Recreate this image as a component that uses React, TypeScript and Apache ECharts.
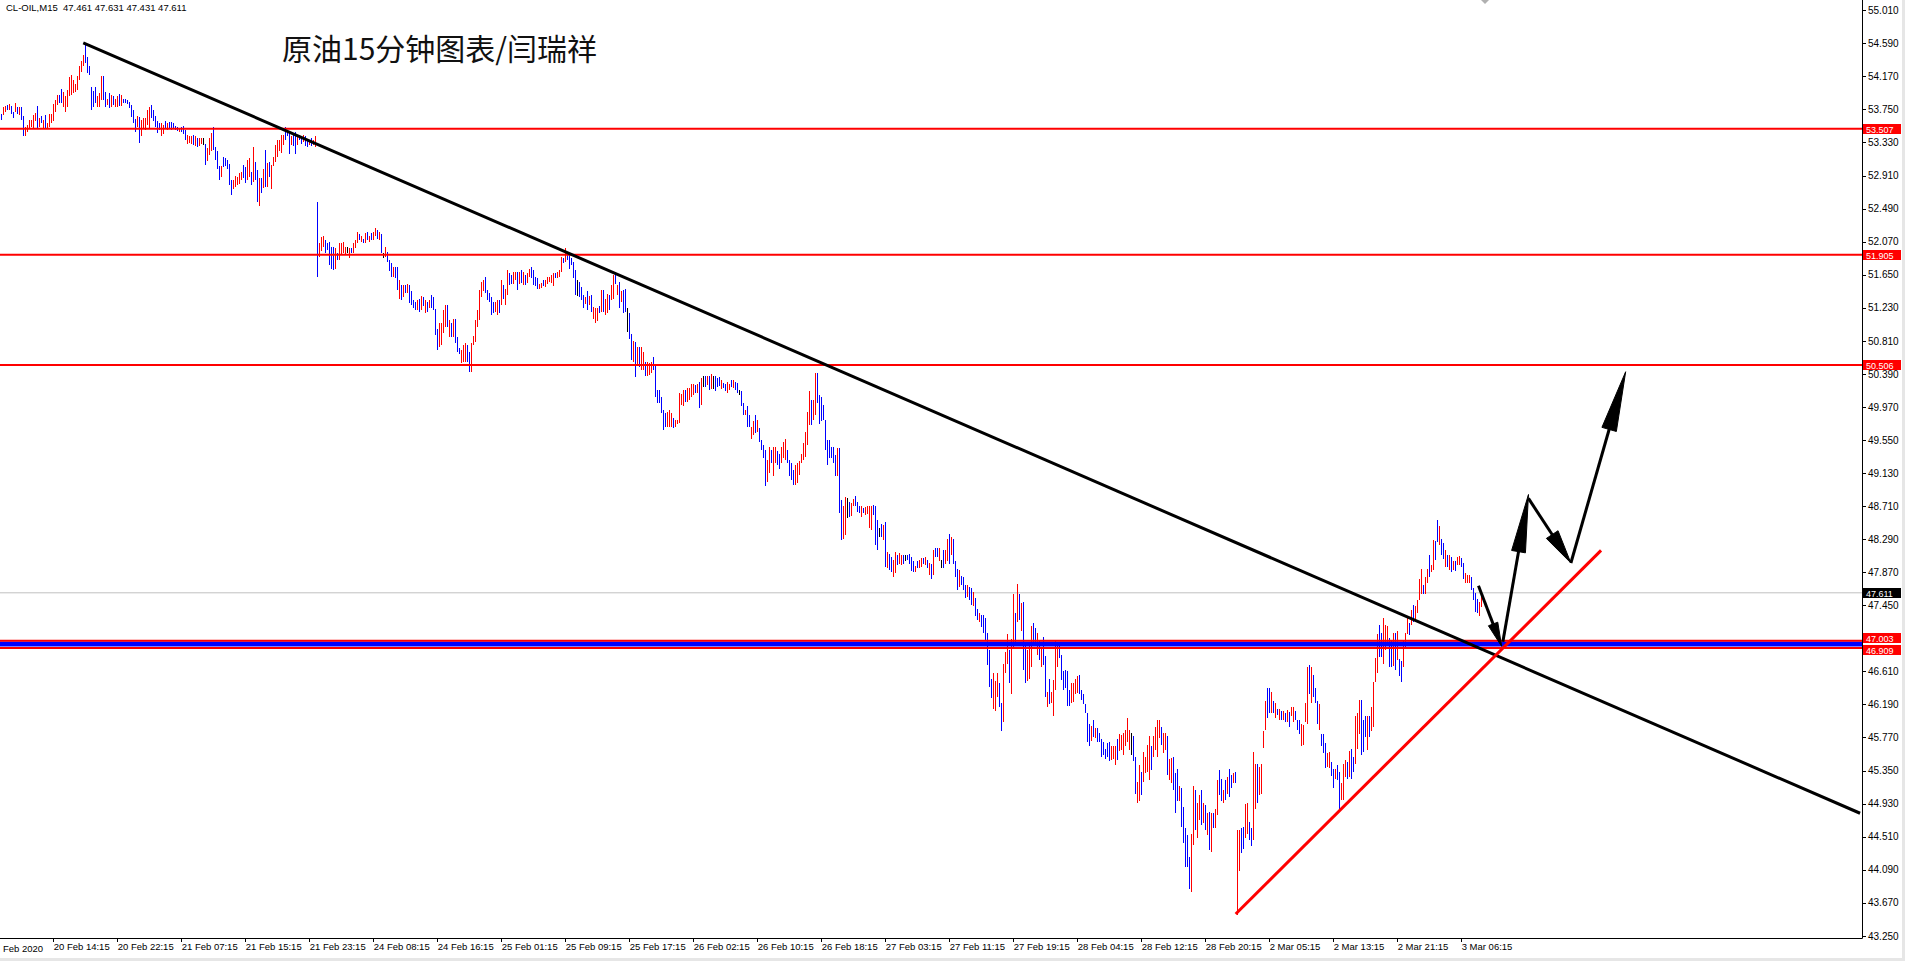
import React, { useEffect, useRef } from "react";
import * as echarts from "echarts";

const symbolHeader = "CL-OIL,M15  47.461 47.631 47.431 47.611";
const chartTitle = "原油15分钟图表/闫瑞祥";

// M15 bars: high / low per bar, direction r = up (red), b = down (blue), k = unchanged (black)
const highs = [
  53.70,53.79,53.80,53.81,53.82,53.80,53.72,53.83,53.79,53.78,
  53.78,53.67,53.53,53.55,53.62,53.62,53.68,53.71,53.80,53.65,
  53.67,53.62,53.68,53.58,53.70,53.70,53.82,53.87,53.94,53.93,
  54.01,53.98,53.92,54.00,54.17,54.19,54.13,54.08,54.18,54.30,
  54.37,54.44,54.59,54.42,54.30,54.04,53.99,54.04,53.92,53.96,
  54.18,54.18,53.98,53.89,53.96,53.94,53.92,53.89,53.92,53.95,
  53.94,53.89,53.89,53.87,53.85,53.81,53.75,53.63,53.67,53.66,
  53.62,53.65,53.64,53.75,53.78,53.81,53.75,53.67,53.60,53.58,
  53.58,53.55,53.61,53.58,53.59,53.59,53.58,53.54,53.53,53.51,
  53.53,53.54,53.49,53.43,53.41,53.41,53.43,53.41,53.39,53.39,
  53.39,53.39,53.32,53.26,53.39,53.45,53.53,53.28,53.22,53.03,
  53.03,53.15,53.13,53.11,53.06,52.85,52.86,52.91,52.90,52.94,
  52.96,53.05,53.02,53.11,53.14,52.96,53.27,53.09,52.98,52.88,
  52.88,53.00,53.24,53.07,53.09,53.05,53.15,53.30,53.36,53.36,
  53.43,53.43,53.53,53.49,53.47,53.42,53.45,53.47,53.40,53.43,
  53.42,53.43,53.41,53.37,53.36,53.39,53.37,53.42,52.58,52.05,
  52.13,52.14,52.09,52.05,52.07,52.01,52.01,51.99,51.93,52.05,
  52.05,52.07,52.01,52.00,51.99,51.99,52.06,52.09,52.20,52.17,
  52.14,52.11,52.18,52.20,52.14,52.18,52.20,52.25,52.22,52.19,
  52.17,51.93,52.00,51.94,51.84,51.80,51.75,51.75,51.75,51.58,
  51.52,51.52,51.52,51.54,51.52,51.44,51.33,51.31,51.33,51.34,
  51.38,51.37,51.33,51.30,51.33,51.40,51.37,51.22,50.96,51.04,
  51.04,51.20,51.27,51.27,51.08,51.04,51.09,51.09,50.86,50.72,
  50.70,50.76,50.78,50.76,50.67,
  50.78,50.87,51.08,51.20,51.46,51.56,51.59,51.63,51.46,51.42,
  51.37,51.31,51.31,51.33,51.33,51.59,51.52,51.47,51.71,51.68,
  51.65,51.69,51.69,51.69,51.69,51.71,51.69,51.65,51.68,
  51.73,51.75,51.71,51.63,51.61,51.54,51.55,51.59,51.59,51.63,
  51.63,51.65,51.67,51.68,51.69,51.71,51.88,51.86,51.99,51.92,
  51.90,51.86,51.82,51.71,51.59,51.56,51.50,51.40,51.37,51.44,
  51.38,51.40,51.24,51.23,51.23,51.25,51.46,51.46,51.34,51.41,
  51.40,51.52,51.65,51.69,51.52,51.56,51.44,51.46,51.47,51.23,
  51.16,50.90,50.81,50.80,50.74,50.74,50.74,50.67,50.55,50.55,
  50.53,50.55,50.61,50.51,50.19,50.19,50.10,49.93,49.90,49.91,
  49.93,49.90,49.83,49.81,49.81,50.15,50.14,50.19,50.19,50.21,
  50.21,50.26,50.26,50.25,50.26,50.29,50.34,50.36,50.37,50.36,
  50.36,50.39,50.36,50.36,50.34,
  50.35,50.31,50.28,50.26,50.29,50.27,50.31,50.31,50.29,50.28,
  50.19,50.17,50.02,49.94,49.98,49.87,49.72,49.79,49.87,49.81,
  49.70,49.55,49.49,49.42,49.30,49.47,49.43,49.47,49.47,49.41,
  49.38,49.47,49.53,49.56,49.43,49.30,49.26,49.17,49.24,49.26,
  49.28,49.38,49.51,49.66,49.91,50.17,50.06,50.06,50.40,50.40,
  50.12,50.10,50.00,49.81,49.55,49.55,49.47,49.47,49.36,49.45,
  49.45,48.79,48.71,48.83,48.81,48.77,48.75,48.80,48.84,48.77,
  48.71,48.71,48.69,48.70,
  48.71,48.71,48.71,48.73,48.71,48.54,48.43,48.49,48.47,48.51,
  48.13,48.11,48.07,48.03,48.13,48.09,48.12,48.09,48.09,48.09,
  48.09,48.10,48.07,48.01,47.95,48.01,48.03,48.05,48.05,48.06,
  48.03,47.99,47.98,48.15,48.18,48.18,48.18,48.03,48.15,48.15,
  48.29,48.36,48.32,48.30,48.01,47.91,47.90,47.82,47.81,47.71,
  47.71,47.69,47.67,47.62,47.54,47.41,47.35,47.33,47.33,47.29,
  47.10,46.88,
  46.52,46.59,46.49,46.59,46.46,46.21,46.71,46.86,47.09,46.88,
  47.03,47.60,47.36,47.72,47.60,47.48,47.50,46.95,46.88,46.99,
  47.19,47.23,47.16,47.10,47.01,46.91,47.05,46.81,46.35,46.51,
  46.35,46.50,47.01,46.96,46.93,46.82,46.62,46.63,46.62,46.38,
  46.47,46.47,46.52,46.55,46.57,46.38,46.33,46.20,46.09,45.94,
  45.92,45.99,45.89,45.89,45.83,45.75,45.72,45.63,45.70,45.71,
  45.66,45.66,45.66,45.75,45.82,45.80,45.83,45.87,46.02,45.87,
  45.83,45.79,45.53,45.21,45.42,45.34,45.59,45.53,45.68,45.79,
  45.66,45.79,45.91,46.00,46.00,45.91,45.83,45.83,45.79,45.50,
  45.51,45.53,45.32,45.37,45.15,45.13,44.89,44.62,44.53,44.26,
  44.55,45.15,45.10,44.94,45.04,45.10,44.94,44.91,44.81,44.82,
  44.81,44.81,44.87,45.23,45.36,45.25,45.10,45.23,45.27,45.37,
  45.30,45.32,45.34,
  44.60,44.60,44.62,44.64,44.93,44.94,44.70,44.62,45.59,45.44,
  45.44,45.40,45.44,45.85,46.23,46.40,46.40,46.35,46.23,46.21,
  46.13,46.13,46.11,46.11,46.09,46.12,46.10,46.16,46.16,46.11,
  45.99,45.99,45.94,45.93,46.21,46.67,46.69,46.67,46.57,46.40,
  46.23,46.20,45.82,45.82,45.70,45.57,45.59,45.46,45.37,45.37,
  45.42,45.34,45.19,45.44,45.49,45.46,45.60,45.63,45.53,46.04,
  46.08,46.25,46.25,45.99,46.04,46.04,46.05,46.16,46.48,46.78,
  47.09,47.20,47.10,47.29,47.20,47.19,47.04,47.01,47.10,47.10,
  47.12,46.77,46.74,47.01,47.10,47.29,47.23,47.39,47.46,47.44,
  47.52,47.79,47.91,47.71,47.81,47.91,48.09,47.96,48.28,48.27,
  48.53,48.46,48.30,48.24,48.15,48.09,48.09,48.06,48.02,48.01,
  48.07,48.08,48.05,47.99,47.86,47.84,47.84,47.81,47.67,47.61,
  47.53,47.50,47.631,
];

const lows = [
  53.62,53.68,53.72,53.75,53.75,53.70,53.64,53.72,53.70,53.68,
  53.62,53.41,53.41,53.47,53.50,53.53,53.50,53.60,53.51,53.53,
  53.58,53.51,53.51,53.50,53.53,53.58,53.60,53.72,53.81,53.83,
  53.84,53.79,53.72,53.79,53.92,53.94,53.96,53.98,54.00,54.13,
  54.23,54.30,54.34,54.21,54.19,53.75,53.79,53.83,53.78,53.79,
  53.87,53.87,53.79,53.81,53.77,53.79,53.81,53.78,53.79,53.80,
  53.80,53.83,53.84,53.82,53.77,53.66,53.58,53.47,53.53,53.33,
  53.41,53.50,53.49,53.55,53.51,53.64,53.60,53.53,53.45,53.49,
  53.41,53.44,53.50,53.49,53.51,53.49,53.50,53.49,53.48,53.47,
  53.47,53.44,53.37,53.32,53.33,53.32,53.30,53.29,53.27,53.29,
  53.31,53.30,53.05,53.10,53.17,53.23,53.24,53.11,53.00,52.86,
  52.90,53.02,53.03,53.00,52.79,52.67,52.74,52.77,52.79,52.81,
  52.86,52.88,52.82,52.86,52.90,52.79,52.83,52.86,52.58,52.53,
  52.69,52.75,52.77,52.77,52.89,52.74,53.03,53.09,53.15,53.22,
  53.20,53.30,53.36,53.41,53.19,53.30,53.29,53.19,53.30,53.36,
  53.32,53.34,53.29,53.27,53.30,53.29,53.30,53.27,51.63,51.88,
  51.95,52.01,51.93,51.97,51.78,51.73,51.71,51.72,51.84,51.84,
  51.92,51.93,51.92,51.93,51.86,51.93,51.93,51.99,52.05,52.09,
  52.07,52.06,52.05,52.09,52.07,52.09,52.09,52.14,52.11,52.09,
  51.93,51.87,51.88,51.82,51.70,51.63,51.63,51.61,51.46,51.35,
  51.33,51.37,51.42,51.42,51.29,51.27,51.23,51.21,51.20,51.18,
  51.20,51.25,51.16,51.18,51.23,51.23,51.20,50.89,50.70,50.74,
  50.76,50.91,50.99,50.99,50.86,50.86,50.86,50.78,50.67,50.65,
  50.53,50.54,50.54,50.55,50.42,
  50.42,50.76,50.80,50.99,51.08,51.37,51.44,51.42,51.33,51.31,
  51.14,51.16,51.18,51.14,51.16,51.27,51.35,51.27,51.40,51.52,
  51.54,51.54,51.59,51.46,51.54,51.55,51.52,51.52,51.55,
  51.63,51.61,51.52,51.51,51.47,51.47,51.48,51.51,51.50,51.54,
  51.56,51.55,51.51,51.61,51.61,51.63,51.69,51.80,51.82,51.84,
  51.72,51.78,51.61,51.40,51.38,51.37,51.33,51.23,51.28,51.20,
  51.27,51.18,51.09,51.04,51.06,51.16,51.18,51.18,51.14,51.16,
  51.20,51.33,51.35,51.54,51.40,51.23,51.31,51.16,51.18,50.93,
  50.84,50.57,50.55,50.35,50.51,50.48,50.44,50.44,50.36,50.36,
  50.38,50.40,50.44,50.10,50.02,50.02,49.89,49.68,49.72,49.72,
  49.72,49.72,49.71,49.72,49.76,49.77,50.00,49.98,50.04,50.04,
  50.06,50.10,50.12,50.15,50.15,49.96,50.00,50.23,50.23,50.25,
  50.19,50.20,50.20,50.17,50.22,
  50.24,50.20,50.21,50.17,50.15,50.19,50.23,50.21,50.19,50.15,
  50.12,49.98,49.87,49.87,49.72,49.72,49.57,49.62,49.64,49.66,
  49.53,49.43,49.32,48.97,49.02,49.13,49.26,49.09,49.26,49.23,
  49.19,49.26,49.32,49.30,49.26,49.09,49.04,48.98,48.98,49.00,
  49.11,49.26,49.30,49.34,49.49,49.74,49.74,49.81,49.87,50.02,
  49.76,49.79,49.81,49.43,49.24,49.32,49.32,49.26,49.09,49.10,
  48.62,48.28,48.30,48.35,48.56,48.58,48.59,48.71,48.71,48.64,
  48.62,48.58,48.62,48.60,
  48.61,48.43,48.41,48.60,48.22,48.15,48.32,48.32,48.28,47.94,
  47.92,47.90,47.88,47.81,47.86,47.96,47.98,47.96,47.98,48.01,
  48.03,47.98,47.89,47.88,47.88,47.92,47.92,47.94,47.98,47.96,
  47.92,47.84,47.79,47.84,48.07,48.07,48.01,47.92,47.92,47.98,
  48.01,47.98,48.09,47.98,47.81,47.65,47.69,47.71,47.65,47.54,
  47.56,47.52,47.46,47.44,47.31,47.26,47.24,47.18,47.10,47.01,
  46.69,46.42,
  46.28,46.14,46.11,46.29,46.16,45.86,45.97,46.59,46.71,46.47,
  46.33,46.91,46.97,47.24,47.26,47.12,46.63,46.47,46.49,46.52,
  46.67,46.93,46.93,46.82,46.76,46.67,46.69,46.29,46.16,46.20,
  46.21,46.04,46.38,46.67,46.78,46.50,46.37,46.40,46.17,46.17,
  46.21,46.22,46.33,46.34,46.33,46.25,46.20,46.09,45.72,45.66,
  45.73,45.78,45.76,45.71,45.71,45.53,45.55,45.50,45.52,45.47,
  45.49,45.50,45.42,45.49,45.60,45.62,45.55,45.66,45.72,45.61,
  45.55,45.47,45.06,44.94,44.96,45.04,45.21,45.32,45.33,45.23,
  45.36,45.53,45.61,45.53,45.76,45.68,45.57,45.61,45.30,45.23,
  45.19,45.10,44.81,44.97,44.96,44.64,44.43,44.13,44.13,43.85,
  43.81,44.41,44.60,44.49,44.72,44.66,44.68,44.60,44.53,44.34,
  44.32,44.62,44.62,44.79,45.04,44.96,44.94,44.98,45.06,45.02,
  45.13,45.20,45.20,
  43.52,44.07,44.30,44.35,44.49,44.55,44.47,44.40,44.47,44.87,
  44.94,45.04,45.06,45.64,45.87,46.02,46.08,46.08,46.08,46.02,
  46.06,45.99,45.99,45.99,45.97,45.97,45.91,46.04,45.97,46.00,
  45.87,45.82,45.66,45.68,45.97,45.95,46.33,46.21,46.29,46.21,
  45.95,45.87,45.66,45.57,45.38,45.40,45.38,45.28,45.13,45.25,
  45.23,44.83,44.98,44.98,45.27,45.25,45.27,45.25,45.34,45.44,
  45.63,45.82,45.55,45.59,45.78,45.61,45.78,45.85,45.91,46.48,
  46.59,46.80,46.80,46.71,46.88,46.97,46.67,46.67,46.68,46.63,
  46.76,46.55,46.48,46.67,46.90,47.09,47.07,47.20,47.24,47.27,
  47.35,47.52,47.60,47.60,47.60,47.73,47.81,47.88,47.90,48.03,
  48.26,48.22,48.09,48.04,47.94,47.94,47.90,47.88,47.90,47.89,
  47.96,47.96,47.94,47.79,47.73,47.74,47.73,47.65,47.52,47.37,
  47.36,47.31,47.431,
];

const barDirs = [
  "brrbrbbrbr","bbrrrrrrbr","brbrrrrrrb","brrrrrrrrr","rrbbbbbbrr",
  "rbbrbrbrrb","rbbbbbbbrb","rrrrrbbbbb","rrbrbbbbbr","bbbrrrbrbr",
  "rkbrrrbbbb","rbbbbbrrrr","rbbrrbrbbr","brbrbrrrrr","rrbbbrbbrb",
  "brbbrbrrbr","rrbbbbbrbr","rrrkrbrrrb","rbrbrbrrbr","bkrbbbrbbr",
  "brbrbbbbrb","rbrbrbbbbr","rrrbrbrbbb","rrrbb",
  "rrrrrrrbbb","bbrrbrbrrb","brrbrbrb","r",
  "rbbbbrrbrr","rrrbrrrbrb","bbbbkbbbrb","rbrrrbrbrr","brrbrbrbbk",
  "bbrbrbrrbr","rrbbbbbbbr","rrbrrrrrbr","rrrbrbrkbr","brkb","b",
  "brbbrrbrbb","kbbrbbrrbr","bbbbrrbrrb","brrrbbbbrr","rrrrrrbrrb",
  "bbbbbbbbbr","bbrrkbrrbb","brb","r",
  "rrrbbbkbrb","rbbrrbrrbk","bbbbrbrrb","r",
  "brbrbbrkbr","rbrbbbrbbb","rbbrbbrbbb","bb",
  "brrrbbrrrb","rrbrbrbbrr","rbbrbrbbrb","rrrrbbbbbb","rrrrbbbbbb",
  "rbrbbbbbbb","rrrbrrrrrr","kbbrrbrrrr","brrrrbrrbr","rbbbrbbbbb",
  "rrbrrbrbrb","rbrrbbrbrb","brb",
  "rrbbrrbbrr","brrrrbbrbr","brbrbrbrrb","bbrrrrbrbb","brbbbrrbbr",
  "bbrrrbrbbr","rrbbbrbrrr","rbbrrrbbrb","rbbrrrbrbr","rrrbrrbrrb",
  "brbbrbrbrb","rrbbrrrbbb","brr",
].join("");

const yTickLabels = [
  "55.010","54.590","54.170","53.750","53.330","52.910","52.490","52.070",
  "51.650","51.230","50.810","50.390","49.970","49.550","49.130","48.710",
  "48.290","47.870","47.450","47.030","46.610","46.190","45.770","45.350",
  "44.930","44.510","44.090","43.670","43.250",
];
const xTickLabels = [
  "20 Feb 14:15","20 Feb 22:15","21 Feb 07:15","21 Feb 15:15","21 Feb 23:15",
  "24 Feb 08:15","24 Feb 16:15","25 Feb 01:15","25 Feb 09:15","25 Feb 17:15",
  "26 Feb 02:15","26 Feb 10:15","26 Feb 18:15","27 Feb 03:15","27 Feb 11:15",
  "27 Feb 19:15","28 Feb 04:15","28 Feb 12:15","28 Feb 20:15","2 Mar 05:15",
  "2 Mar 13:15","2 Mar 21:15","3 Mar 06:15",
];
const firstDateLabel = "Feb 2020";

const levelLines = [53.507, 51.905, 50.506];
const bandUpper = 47.003;
const bandLower = 46.909;
const bandBlue = 46.962;
const currentPrice = 47.611;

// trend lines (bar index, price)
const downTrend = [[41.3, 54.6], [929.7, 44.81]];
const upTrend = [[617.5, 43.53], [800.2, 48.15]];
// hand-drawn arrows: [tail, tip] in (bar index, price)
const arrowPaths = [
  [[738.9, 47.70], [750.5, 46.93]],
  [[751.1, 46.99], [763.9, 48.86]],
  [[763.9, 48.81], [785.1, 47.99]],
  [[785.1, 47.99], [812.5, 50.42]],
];
const arrowHeadSize = [[24, 5], [58, 7], [34, 7], [60, 7.5]];

// layout
const PLOT_W = 1862;
const PLOT_H = 938;
const X_MIN = -0.335;
const X_MAX = X_MIN + PLOT_W / 2;
const Y_TOP = 55.1434;
const Y_BOT = 43.2249;
const TICK0 = 26.5;
const TICK_STEP = 32;
const AXIS_FONT = "Liberation Sans";

const barColors = ["#ff0000", "#0000ff", "#000000"];

export default function App() {
  const ref = useRef<HTMLDivElement>(null);

  useEffect(() => {
    if (!ref.current) return;
    const chart = echarts.init(ref.current, null, { renderer: "svg" });
    const bars = highs.map((h, i) => {
      const c = barDirs[i];
      return [i, h, lows[i], c === "r" ? 0 : c === "b" ? 1 : 2];
    });
    const xTickValues = xTickLabels.map((_, i) => TICK0 + TICK_STEP * i);
    const yTickValues = yTickLabels.map((s) => parseFloat(s));
    // scale labels hidden under the price tags of the band lines
    const yLabelValues = yTickValues.filter(
      (v) => Math.abs(v - bandUpper) > 0.06 && Math.abs(v - bandLower) > 0.06
    );
    const hLine = (p: number, color: string, width: number, z: number) => ({
      type: "line",
      data: [[X_MIN, p], [X_MAX, p]],
      symbol: "none",
      silent: true,
      animation: false,
      z,
      lineStyle: { color, width },
    });

    const option: any = {
      animation: false,
      backgroundColor: "#ffffff",
      grid: { left: 0, top: 0, width: PLOT_W, height: PLOT_H, containLabel: false },
      xAxis: {
        type: "value",
        min: X_MIN,
        max: X_MAX,
        splitLine: { show: false },
        axisLine: { show: true, onZero: false, lineStyle: { color: "#000", width: 1 } },
        axisTick: { show: true, length: 4, lineStyle: { color: "#000" }, customValues: xTickValues },
        axisLabel: {
          customValues: xTickValues,
          margin: 3,
          align: "left",
          color: "#000",
          fontSize: 9.5,
          fontFamily: AXIS_FONT,
          formatter: (v: number) => xTickLabels[Math.round((v - TICK0) / TICK_STEP)] ?? "",
        },
      },
      yAxis: {
        type: "value",
        position: "right",
        min: Y_BOT,
        max: Y_TOP,
        splitLine: { show: false },
        axisLine: { show: true, onZero: false, lineStyle: { color: "#000", width: 1 } },
        axisTick: { show: true, length: 4, lineStyle: { color: "#000" }, customValues: yTickValues },
        axisLabel: {
          customValues: yLabelValues,
          margin: 6,
          color: "#000",
          fontSize: 10,
          fontFamily: AXIS_FONT,
          formatter: (v: number) => v.toFixed(3),
        },
      },
      series: [
        hLine(currentPrice, "#c0c0c0", 1, 1),
        {
          type: "custom",
          z: 2,
          silent: true,
          data: bars,
          encode: { x: 0, y: [1, 2] },
          renderItem: (_params: any, api: any) => {
            const i = api.value(0);
            const top = api.coord([i, api.value(1)]);
            const bot = api.coord([i, api.value(2)]);
            const x = Math.round(top[0]) + 0.5;
            const y1 = Math.round(top[1]);
            let y2 = Math.round(bot[1]);
            if (y2 - y1 < 1) y2 = y1 + 1;
            return {
              type: "line",
              shape: { x1: x, y1, x2: x, y2 },
              style: { stroke: barColors[api.value(3)], lineWidth: 1 },
            };
          },
        },
        ...levelLines.map((p) => hLine(p, "#ff0000", 2, 3)),
        hLine(bandBlue, "#0000ff", 5, 3),
        hLine(bandUpper, "#ff0000", 2, 3),
        hLine(bandLower, "#ff0000", 2, 3),
        {
          type: "line",
          data: downTrend,
          symbol: "none",
          silent: true,
          z: 4,
          lineStyle: { color: "#000", width: 3 },
        },
        {
          type: "line",
          data: upTrend,
          symbol: "none",
          silent: true,
          z: 4,
          lineStyle: { color: "#ff0000", width: 3 },
        },
      ],
    };
    chart.setOption(option);

    const px = (k: number, p: number) => chart.convertToPixel({ gridIndex: 0 }, [k, p]) as number[];
    const graphics: any[] = [];

    // arrows
    arrowPaths.forEach(([tail, tip], idx) => {
      const a = px(tail[0], tail[1]);
      const b = px(tip[0], tip[1]);
      const dx = b[0] - a[0];
      const dy = b[1] - a[1];
      const len = Math.hypot(dx, dy);
      const ux = dx / len;
      const uy = dy / len;
      const [hl, hw] = arrowHeadSize[idx];
      const bx = b[0] - ux * hl;
      const by = b[1] - uy * hl;
      graphics.push({
        type: "polyline",
        z: 20,
        shape: { points: [a, [bx + ux * 2, by + uy * 2]] },
        style: { stroke: "#000", lineWidth: 3, fill: null },
      });
      graphics.push({
        type: "polygon",
        z: 20,
        shape: {
          points: [
            b,
            [bx - uy * hw, by + ux * hw],
            [bx + uy * hw, by - ux * hw],
          ],
        },
        style: { fill: "#000", stroke: "#000", lineWidth: 1 },
      });
    });

    // price labels on the right scale
    const priceTag = (p: number, bg: string, shift = 0) => {
      const y = Math.round(px(0, p)[1]) + shift;
      graphics.push({
        type: "rect",
        z: 30,
        shape: { x: PLOT_W + 1, y: y - 5, width: 38, height: 10 },
        style: { fill: bg },
      });
      graphics.push({
        type: "text",
        z: 31,
        style: {
          x: PLOT_W + 4,
          y: y + 0.5,
          text: p.toFixed(3),
          fill: "#fff",
          font: `9px "${AXIS_FONT}"`,
          textVerticalAlign: "middle",
          verticalAlign: "middle",
        },
      });
    };
    levelLines.forEach((p) => priceTag(p, "#ff0000"));
    priceTag(bandLower, "#ff0000", 2);
    priceTag(bandUpper, "#ff0000", -3);
    priceTag(currentPrice, "#000000");

    // first (cut) date label
    graphics.push({
      type: "text",
      z: 5,
      style: {
        x: 3,
        y: PLOT_H + 10,
        text: firstDateLabel,
        fill: "#000",
        font: `9.5px "${AXIS_FONT}"`,
        textVerticalAlign: "middle",
        verticalAlign: "middle",
      },
    });

    // chart-shift marker and window edges
    graphics.push({
      type: "polygon",
      z: 5,
      shape: { points: [[1481, 0], [1489, 0], [1485, 4]] },
      style: { fill: "#b0b0b0" },
    });
    graphics.push({
      type: "rect",
      z: 5,
      shape: { x: 1902, y: 0, width: 3, height: 961 },
      style: { fill: "#e6e6e6" },
    });
    graphics.push({
      type: "rect",
      z: 5,
      shape: { x: 0, y: 958, width: 1905, height: 3 },
      style: { fill: "#e6e6e6" },
    });

    // header and title
    graphics.push({
      type: "text",
      z: 40,
      style: {
        x: 6,
        y: 7,
        text: symbolHeader,
        fill: "#000",
        font: `9.5px "${AXIS_FONT}"`,
        textVerticalAlign: "middle",
        verticalAlign: "middle",
      },
    });
    graphics.push({
      type: "text",
      z: 40,
      style: {
        x: 282,
        y: 47,
        text: chartTitle,
        fill: "#111",
        font: '30px "Noto Sans CJK SC"',
        textVerticalAlign: "middle",
        verticalAlign: "middle",
      },
    });

    chart.setOption({ graphic: graphics });

    return () => chart.dispose();
  }, []);

  return (
    <div
      ref={ref}
      style={{ position: "fixed", left: 0, top: 0, width: 1905, height: 961, background: "#fff" }}
    />
  );
}
